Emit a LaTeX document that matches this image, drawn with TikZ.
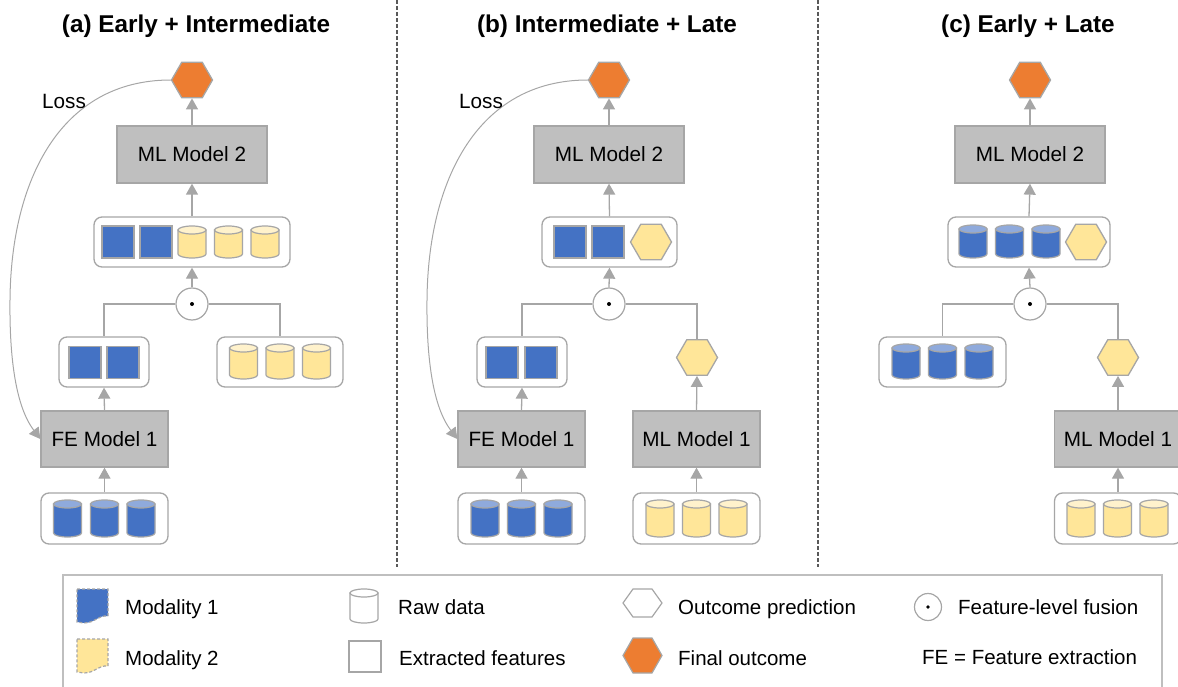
\documentclass[tikz,border=0pt]{standalone}
\usepackage{fontspec}
\setmainfont{Liberation Sans}
\usetikzlibrary{shapes.geometric,arrows.meta}
\definecolor{mblue}{HTML}{4472C4}
\definecolor{mbluetop}{HTML}{8FAADC}
\definecolor{myel}{HTML}{FFE699}
\definecolor{myeltop}{HTML}{FFF2CC}
\definecolor{morange}{HTML}{ED7D31}
\definecolor{boxgray}{HTML}{BFBFBF}
\definecolor{linegray}{HTML}{A6A6A6}
\definecolor{dashgray}{HTML}{595959}
\newcommand\cylx[5]{%
 \filldraw[fill=#4,draw=linegray,line width=1.2pt] (#1-14,#2+4) -- (#1-14,#3-4) arc[start angle=180,end angle=0,x radius=14,y radius=4] -- (#1+14,#2+4) -- cycle;
 \filldraw[fill=#5,draw=linegray,line width=1.2pt] (#1,#2+4) ellipse[x radius=14,y radius=4];
}
\begin{document}
\begin{tikzpicture}[x=1pt,y=-1pt,
  lbl/.style={font=\fontsize{20.7pt}{24pt}\selectfont},
  model/.style={draw=linegray, fill=boxgray, line width=1.3pt, minimum width=127pt, minimum height=56pt, inner sep=0pt, lbl},
  bigmodel/.style={model, minimum width=150pt, minimum height=57pt},
  holder/.style={draw=linegray, fill=white, line width=1.3pt, rounded corners=8pt, minimum height=50pt, inner sep=0pt},
  feat/.style={draw=linegray, fill=mblue, line width=1.3pt, minimum size=32pt, inner sep=0pt},
  hexa/.style={regular polygon, regular polygon sides=6, minimum size=41pt, inner sep=0pt, draw=linegray, line width=1.3pt},
  outc/.style={hexa, fill=myel},
  final/.style={hexa, fill=morange},
  fuse/.style={circle, draw=linegray, fill=white, line width=1.2pt, minimum size=32pt, inner sep=0pt},
  tipgray/.tip={Triangle[width=12pt,length=11pt,fill=linegray,color=linegray]},
  conn/.style={draw=linegray, line width=1.3pt, -tipgray},
  loss/.style={draw=linegray, line width=1pt, -tipgray},
  wire/.style={draw=linegray, line width=1.3pt},
  title/.style={font=\fontsize{24.3pt}{28pt}\selectfont\bfseries},
  legtext/.style={font=\fontsize{20.5pt}{24pt}\selectfont, anchor=west, inner sep=0pt, text height=14.7pt, text depth=0pt}
]
\useasboundingbox (0,0) rectangle (1178,687);
\clip (0,0) rectangle (1178,687);

% separators
\draw[dashgray, line width=1.5pt, dash pattern=on 4pt off 2pt] (397,0) -- (397,567);
\draw[dashgray, line width=1.5pt, dash pattern=on 4pt off 2pt] (818,0) -- (818,567);

% titles
\node[title] (ta) at (196,26) {(a) Early + Intermediate};
\node[title] (tb) at (607,26) {(b) Intermediate + Late};
\node[title] (tc) at (1028,26) {(c) Early + Late};

% ================= Panel A =================
\node[final] (hexA) at (192,80) {};
\node[bigmodel] (mlA) at (192,154.5) {ML Model 2};
\node[holder, minimum width=196pt] (topA) at (192,242) {};
\node[feat] (topAs1) at (118,242) {};
\node[feat] (topAs2) at (156,242) {};
\cylx{192}{226}{258}{myel}{myeltop}
\cylx{228.5}{226}{258}{myel}{myeltop}
\cylx{265}{226}{258}{myel}{myeltop}
\node[fuse] (fuseA) at (192,304) {};
\fill (fuseA.center) circle[radius=2pt];
\node[holder, minimum width=90pt] (leftA) at (104,362) {};
\node[feat] (leftAs1) at (85,362.5) {};
\node[feat] (leftAs2) at (123,362.5) {};
\node[holder, minimum width=126pt] (rightA) at (280,362) {};
\cylx{243.5}{344}{379}{myel}{myeltop}
\cylx{280}{344}{379}{myel}{myeltop}
\cylx{316.5}{344}{379}{myel}{myeltop}
\node[model] (feA) at (104.5,439) {FE Model 1};
\node[holder, minimum width=127pt, minimum height=51pt] (botA) at (104.5,518.5) {};
\cylx{67.5}{500}{537}{mblue}{mbluetop}
\cylx{104.5}{500}{537}{mblue}{mbluetop}
\cylx{141}{500}{537}{mblue}{mbluetop}
\draw[conn] (botA.north) -- (feA.south);
\draw[conn] (feA.north) -- (leftA.south);
\draw[wire] (fuseA.west) -| (leftA.north);
\draw[wire] (fuseA.east) -| (rightA.north);
\draw[conn] (fuseA.north) -- (topA.south);
\draw[conn] (topA.north) -- (mlA.south);
\draw[conn] (mlA.north) -- (hexA.south);
\coordinate (lossA) at (10,300);
\draw[loss] (hexA.west) .. controls +(-110,0) and +(1,-120) .. (lossA) .. controls +(-1,90) and +(-15,-20) .. (feA.west);
\node[lbl] (lossAl) at (64,101) {Loss};

% ================= Panel B =================
\node[final] (hexB) at (609,80) {};
\node[bigmodel] (mlB) at (609,154.5) {ML Model 2};
\node[holder, minimum width=135pt] (topB) at (609.5,242) {};
\node[feat] (topBs1) at (570,242) {};
\node[feat] (topBs2) at (608,242) {};
\node[outc] (topBh) at (651,242) {};
\node[fuse] (fuseB) at (609,304) {};
\fill (fuseB.center) circle[radius=2pt];
\node[holder, minimum width=90pt] (leftB) at (522,362) {};
\node[feat] (leftBs1) at (502,362.5) {};
\node[feat] (leftBs2) at (541,362.5) {};
\node[outc] (hexB2) at (697,357.5) {};
\node[model] (feB) at (521.5,439) {FE Model 1};
\node[model] (mlB1) at (696.5,439) {ML Model 1};
\node[holder, minimum width=127pt, minimum height=51pt] (botB1) at (521.5,518.5) {};
\cylx{485}{500}{537}{mblue}{mbluetop}
\cylx{521.5}{500}{537}{mblue}{mbluetop}
\cylx{558}{500}{537}{mblue}{mbluetop}
\node[holder, minimum width=127pt, minimum height=51pt] (botB2) at (696.5,518.5) {};
\cylx{660}{500}{537}{myel}{myeltop}
\cylx{696.5}{500}{537}{myel}{myeltop}
\cylx{733}{500}{537}{myel}{myeltop}
\draw[conn] (botB1.north) -- (feB.south);
\draw[conn] (feB.north) -- (leftB.south);
\draw[conn] (botB2.north) -- (mlB1.south);
\draw[conn] (mlB1.north) -- (hexB2.south);
\draw[wire] (fuseB.west) -| (leftB.north);
\draw[wire] (fuseB.east) -| (hexB2.north);
\draw[conn] (fuseB.north) -- (topB.south);
\draw[conn] (topB.north) -- (mlB.south);
\draw[conn] (mlB.north) -- (hexB.south);
\coordinate (lossB) at (427,300);
\draw[loss] (hexB.west) .. controls +(-110,0) and +(1,-120) .. (lossB) .. controls +(-1,90) and +(-15,-20) .. (feB.west);
\node[lbl] (lossBl) at (481,101) {Loss};

% ================= Panel C =================
\node[final] (hexC) at (1030,80) {};
\node[bigmodel] (mlC) at (1030,154.5) {ML Model 2};
\node[holder, minimum width=162pt] (topC) at (1029,242) {};
\cylx{973}{225}{258}{mblue}{mbluetop}
\cylx{1009.5}{225}{258}{mblue}{mbluetop}
\cylx{1046}{225}{258}{mblue}{mbluetop}
\node[outc] (topCh) at (1086,242) {};
\node[fuse] (fuseC) at (1030,304) {};
\fill (fuseC.center) circle[radius=2pt];
\node[holder, minimum width=127pt] (leftC) at (942.5,362) {};
\cylx{906}{344}{379}{mblue}{mbluetop}
\cylx{942.5}{344}{379}{mblue}{mbluetop}
\cylx{979}{344}{379}{mblue}{mbluetop}
\node[outc] (hexC2) at (1118,357.5) {};
\node[model] (mlC1) at (1118,439) {ML Model 1};
\node[holder, minimum width=127pt, minimum height=51pt] (botC) at (1118,518.5) {};
\cylx{1081}{500}{537}{myel}{myeltop}
\cylx{1117.5}{500}{537}{myel}{myeltop}
\cylx{1154}{500}{537}{myel}{myeltop}
\draw[conn] (botC.north) -- (mlC1.south);
\draw[conn] (mlC1.north) -- (hexC2.south);
\draw[wire] (fuseC.west) -| (leftC.north);
\draw[wire] (fuseC.east) -| (hexC2.north);
\draw[conn] (fuseC.north) -- (topC.south);
\draw[conn] (topC.north) -- (mlC.south);
\draw[conn] (mlC.north) -- (hexC.south);

% ================= Legend =================
\draw[boxgray, line width=1.3pt] (63,575) rectangle (1162,720);
\filldraw[fill=mblue, draw=linegray, dash pattern=on 3pt off 2pt, line width=1.2pt] (77,589) -- (108,589) -- (108,616) .. controls (98,615) and (95,623) .. (84,623) -- (77,622) -- cycle;
\filldraw[fill=myel, draw=linegray, dash pattern=on 3pt off 2pt, line width=1.2pt] (77,639) -- (108,639) -- (108,666) .. controls (98,665) and (95,673) .. (84,673) -- (77,672) -- cycle;
\node[legtext] (lm1) at (125,607) {Modality 1};
\node[legtext] (lm2) at (125,658) {Modality 2};
\cylx{364}{589}{623}{white}{white}
\node[legtext] (lraw) at (398,607) {Raw data};
\draw[linegray, line width=1.3pt] (349,641) rectangle (381,672);
\node[legtext] (lext) at (399,658) {Extracted features};
\draw[linegray, line width=1.2pt, fill=white] (623,603) -- (633,589) -- (652,589) -- (662,603) -- (652,617) -- (633,617) -- cycle;
\node[legtext] (lout) at (678,607) {Outcome prediction};
\filldraw[fill=morange, draw=linegray, line width=1.2pt] (623,655.5) -- (633,638) -- (652,638) -- (662,655.5) -- (652,673) -- (633,673) -- cycle;
\node[legtext] (lfin) at (678,658) {Final outcome};
\draw[linegray, line width=1.2pt] (928,607) circle[radius=13.5pt];
\fill (928,607) circle[radius=1.8pt];
\node[legtext] (lfus) at (958,607) {Feature-level fusion};
\node[legtext] (lfe) at (922,657) {FE = Feature extraction};
\end{tikzpicture}
\end{document}
